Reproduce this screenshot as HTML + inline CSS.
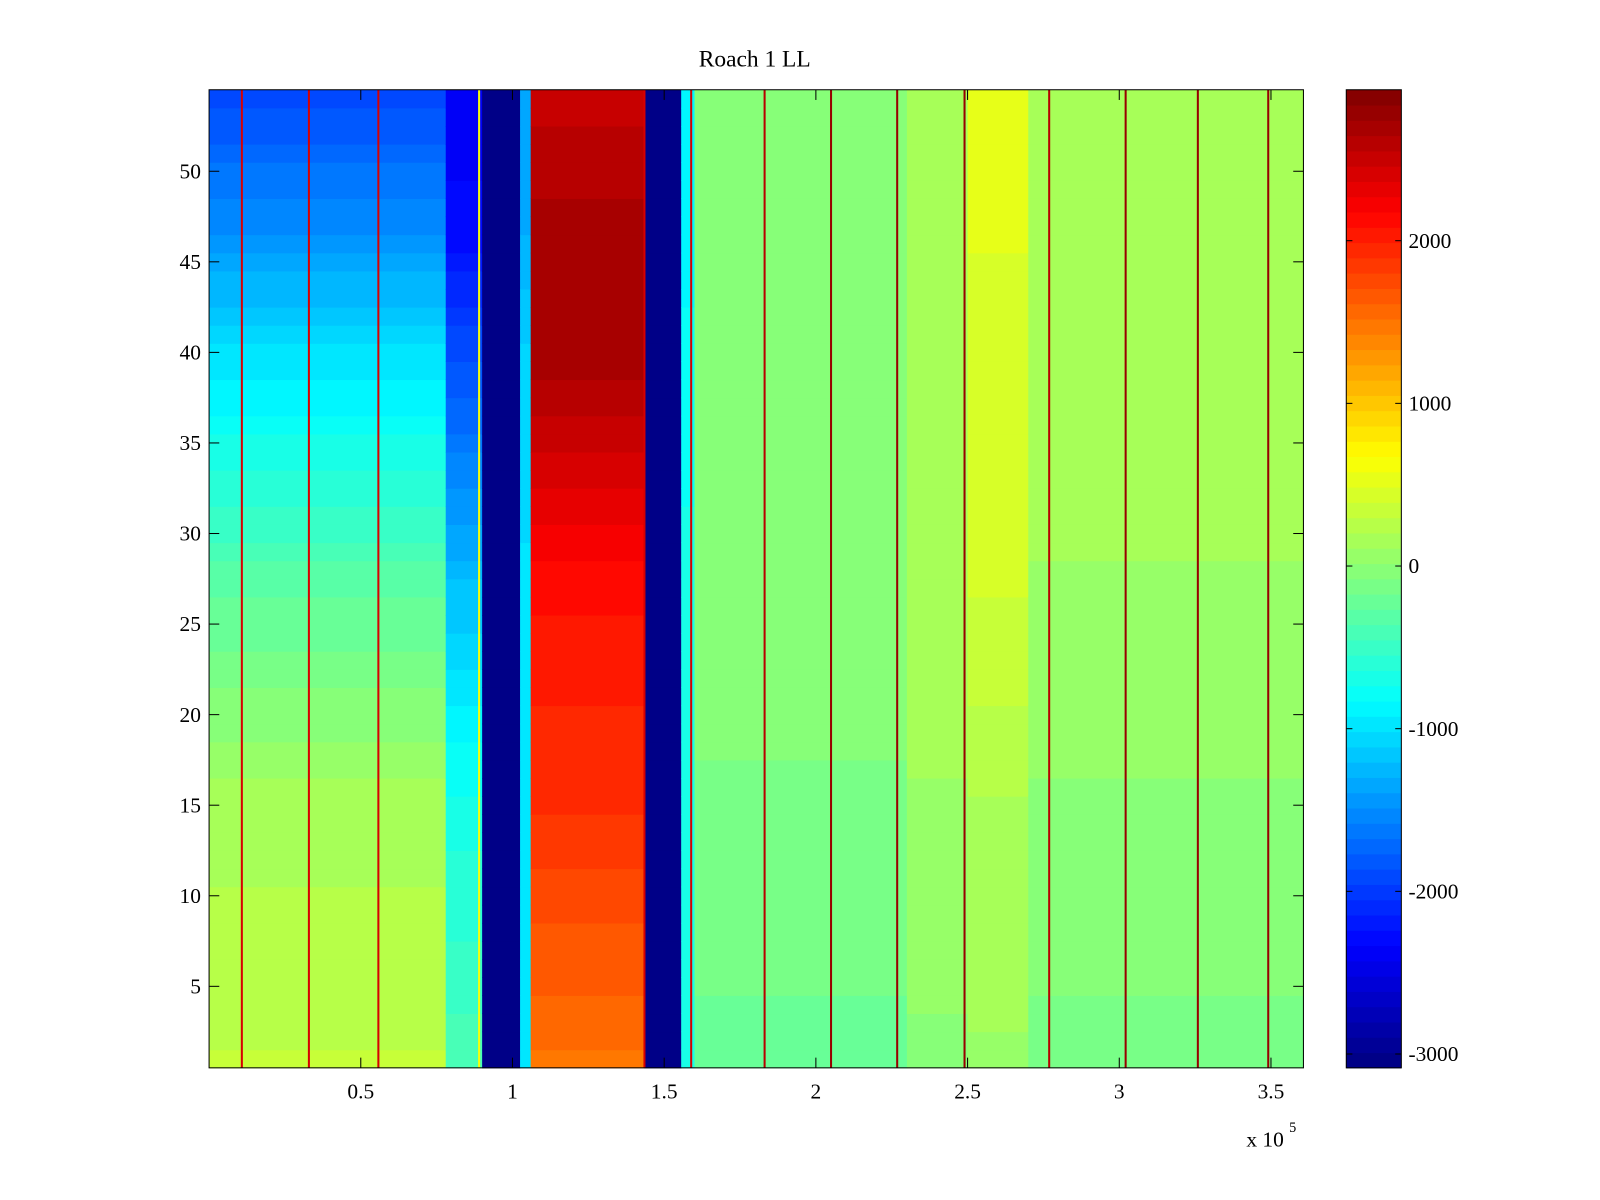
<!DOCTYPE html>
<html><head><meta charset="utf-8"><style>
body{margin:0;background:#fff;}
svg{display:block;font-family:"Liberation Serif",serif;}
</style></head><body>
<svg id="chart" width="1600" height="1200">
<g transform="scale(1.0199)" id="root">
<text x="740" y="65" font-size="23" text-anchor="middle">Roach 1 LL</text>
<g id="cells"></g>
<g id="axes"></g>
<g id="cbar"></g>
</g>
</svg>
<script>
// Data (x in units of 1e5)
const xEdges = [0, 0.78, 0.9, 1.025, 1.06, 1.435, 1.556, 1.6, 2.3, 2.5, 2.7, 3.607];
const keyRows = [1, 15, 27, 40, 47, 54];
const binValues = [
  [300, 150, -300, -1000, -1500, -1900],
  [-400, -700, -1200, -1900, -2300, -2400],
  [-3000, -3000, -3000, -3000, -3000, -3000],
  [-1000, -1000, -1000, -1100, -1300, -1300],
  [1500, 1900, 2100, 2700, 2700, 2500],
  [-3000, -3000, -3000, -3000, -3000, -3000],
  [-700, -700, -700, -800, -900, -900],
  [-200, -100, 0, 0, 0, 0],
  [0, 100, 200, 200, 200, 200],
  [100, 200, 400, 400, 500, 500],
  [-100, 0, 100, 200, 200, 200]
];
const spikeX = [0.108, 0.329, 0.558, 0.89, 1.435, 1.589, 1.831, 2.05, 2.268, 2.49, 2.769, 3.021, 3.259, 3.491];
const spikeVal = [2400, 2400, 2400, 600, 2400, 2400, 2600, 2800, 2800, 2800, 2600, 2800, 2800, 2800];
const xTicks = [0.5, 1, 1.5, 2, 2.5, 3, 3.5];
const yTicks = [5, 10, 15, 20, 25, 30, 35, 40, 45, 50];
const cTicks = [-3000, -2000, -1000, 0, 1000, 2000];

const NS = "http://www.w3.org/2000/svg";
const L = 205, R = 1278, T = 88, B = 1047;
const xMin = 0, xMax = 3.607, yMin = 0.5, yMax = 54.5, cMin = -3085, cMax = 2928;
const sx = v => L + (v - xMin) / (xMax - xMin) * (R - L);
const sy = v => B - (v - yMin) / (yMax - yMin) * (B - T);
const CB_L = 1320, CB_R = 1374;
const sc = v => B - (v - cMin) / (cMax - cMin) * (B - T);
function jet(v) {
  let t = (v - cMin) / (cMax - cMin); t = Math.max(0, Math.min(1, t));
  t = (Math.floor(t * 64) + 0.5) / 64;
  const f = x => Math.max(0, Math.min(1, x));
  const r = f(1.5 - Math.abs(4 * t - 3)), g = f(1.5 - Math.abs(4 * t - 2)), b = f(1.5 - Math.abs(4 * t - 1));
  return `rgb(${Math.round(r*255)},${Math.round(g*255)},${Math.round(b*255)})`;
}
function interp(vals, row) {
  for (let i = 0; i < keyRows.length - 1; i++) {
    if (row <= keyRows[i + 1]) {
      const a = (row - keyRows[i]) / (keyRows[i + 1] - keyRows[i]);
      return vals[i] + a * (vals[i + 1] - vals[i]);
    }
  }
  return vals[vals.length - 1];
}
function mk(tag, attrs, parent) {
  const e = document.createElementNS(NS, tag);
  for (const k in attrs) e.setAttribute(k, attrs[k]);
  parent.appendChild(e); return e;
}
const cells = document.getElementById("cells");
for (let b = 0; b < binValues.length; b++) {
  for (let row = 1; row <= 54; row++) {
    const v = interp(binValues[b], row);
    const x0 = sx(xEdges[b]), x1 = sx(xEdges[b + 1]);
    const y0 = sy(row + 0.5), y1 = sy(row - 0.5);
    const r = mk("rect", {x: x0, y: y0, width: x1 - x0 + 0.5, height: y1 - y0 + 0.5, fill: jet(v)}, cells);
    
    
  }
}
for (let i = 0; i < spikeX.length; i++) {
  const r = mk("rect", {x: sx(spikeX[i]) - 1, y: T, width: 2, height: B - T, fill: jet(spikeVal[i])}, cells);
  
  
}
const axes = document.getElementById("axes");
mk("rect", {x: L, y: T, width: R - L, height: B - T, fill: "none", stroke: "#000", "stroke-width": 1}, axes);
xTicks.forEach(t => {
  const x = sx(t);
  mk("line", {x1: x, x2: x, y1: B, y2: B - 10, stroke: "#000"}, axes);
  mk("line", {x1: x, x2: x, y1: T, y2: T + 10, stroke: "#000"}, axes);
  const tx = mk("text", {x: x, y: B + 30, "font-size": 21, "text-anchor": "middle"}, axes);
  tx.textContent = String(t);
  
  
});
yTicks.forEach(t => {
  const y = sy(t);
  mk("line", {x1: L, x2: L + 10, y1: y, y2: y, stroke: "#000"}, axes);
  mk("line", {x1: R, x2: R - 10, y1: y, y2: y, stroke: "#000"}, axes);
  const tx = mk("text", {x: L - 8, y: y + 7, "font-size": 21, "text-anchor": "end"}, axes);
  tx.textContent = String(t);
  
  
});
const ex = mk("text", {x: 1222, y: 1124, "font-size": 21}, axes);
ex.textContent = "x 10";


const ex2 = mk("text", {x: 1264, y: 1110, "font-size": 14}, axes);
ex2.textContent = "5";



const cbar = document.getElementById("cbar");
for (let i = 0; i < 64; i++) {
  const v0 = cMin + i * (cMax - cMin) / 64, v1 = cMin + (i + 1) * (cMax - cMin) / 64;
  const r = mk("rect", {x: CB_L, y: sc(v1), width: CB_R - CB_L, height: sc(v0) - sc(v1) + 0.5, fill: jet((v0 + v1) / 2)}, cbar);
  
  
}
mk("rect", {x: CB_L, y: T, width: CB_R - CB_L, height: B - T, fill: "none", stroke: "#000"}, cbar);
cTicks.forEach(t => {
  const y = sc(t);
  mk("line", {x1: CB_L, x2: CB_L + 6, y1: y, y2: y, stroke: "#000"}, cbar);
  mk("line", {x1: CB_R, x2: CB_R - 6, y1: y, y2: y, stroke: "#000"}, cbar);
  const tx = mk("text", {x: CB_R + 7, y: y + 7, "font-size": 21}, cbar);
  tx.textContent = String(t);
  
  
});
</script>
</body></html>
